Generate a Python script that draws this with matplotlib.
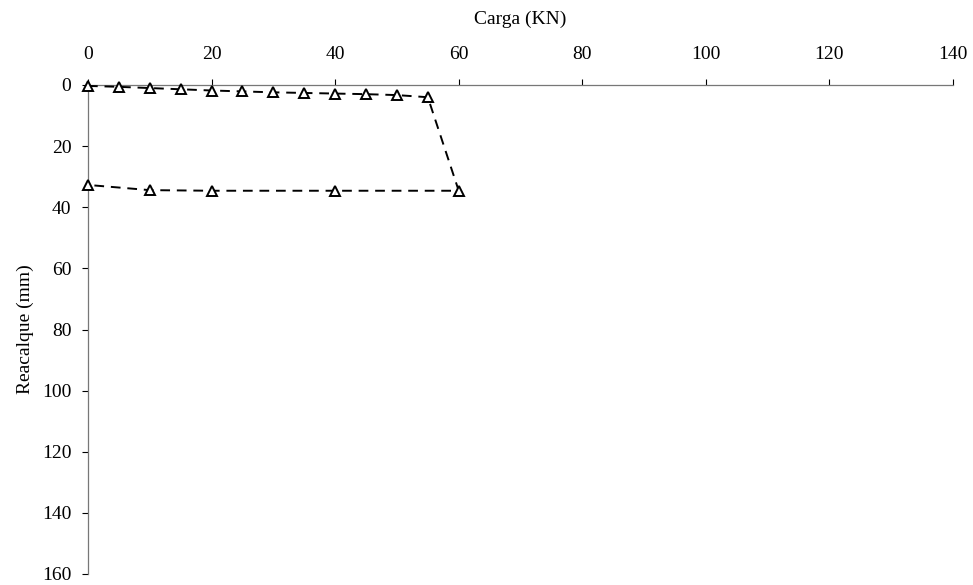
import matplotlib.pyplot as plt

# load / settlement readings (KN, mm)
carga = [0, 5, 10, 15, 20, 25, 30, 35, 40, 45, 50, 55, 60, 40, 20, 10, 0]
recalque = [0.3, 0.6, 1.0, 1.4, 1.8, 2.1, 2.4, 2.6, 2.8, 3.0, 3.3, 4.0,
            34.6, 34.6, 34.6, 34.4, 32.7]

x_ticks = [0, 20, 40, 60, 80, 100, 120, 140]
y_ticks = [0, 20, 40, 60, 80, 100, 120, 140, 160]

plt.rcParams['font.family'] = ['Liberation Serif', 'DejaVu Serif']

fig = plt.figure(figsize=(9.73, 5.85), dpi=100)
ax = fig.add_axes([88 / 973, 1 - 574 / 585, (953 - 88) / 973, (574 - 85) / 585])

ax.plot(carga, recalque, color='black', linestyle='--', linewidth=1.4,
        dashes=(5, 3.5), marker='^', markersize=7, markerfacecolor='white',
        markeredgecolor='black', markeredgewidth=1.4, clip_on=False, zorder=3)

ax.set_xlim(0, 140)
ax.set_ylim(160, 0)
ax.set_xticks(x_ticks)
ax.set_yticks(y_ticks)
ax.xaxis.tick_top()
ax.xaxis.set_label_position('top')
ax.set_xlabel('Carga (KN)', fontsize=14, labelpad=16)
ax.set_ylabel('Reacalque (mm)', fontsize=14, labelpad=6)
ax.tick_params(axis='both', labelsize=14, colors='black', direction='out',
               length=4, width=0.8)
ax.tick_params(axis='x', pad=12)
ax.tick_params(axis='y', pad=8)

for s in ['right', 'bottom']:
    ax.spines[s].set_visible(False)
for s in ['top', 'left']:
    ax.spines[s].set_color('#777777')
    ax.spines[s].set_linewidth(0.9)

fig.savefig('out.png', dpi=100)
